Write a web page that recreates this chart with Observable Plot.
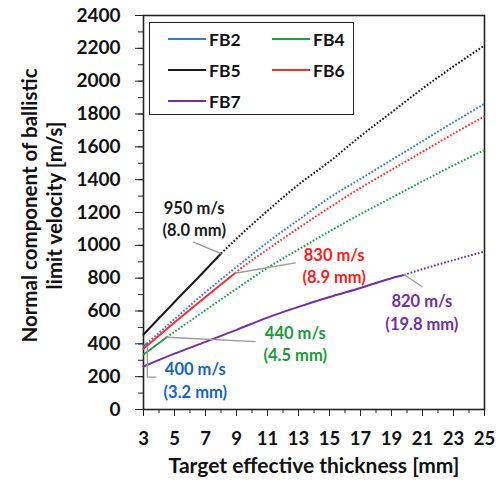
<!DOCTYPE html>
<html>
<head>
<meta charset="utf-8">
<script src="https://cdn.jsdelivr.net/npm/d3@7"></script>
<script src="https://cdn.jsdelivr.net/npm/@observablehq/plot@0.6"></script>
<style>
  html, body { margin: 0; padding: 0; background: #fff; }
  #wrap { position: relative; width: 501px; height: 486px; font-family: Lato, "Open Sans", sans-serif; }
  #legend { position: absolute; left: 149px; top: 22px; width: 203px; height: 91px; border: 1.6px solid #222; background: #fff; }
  .item { position: absolute; display: flex; align-items: center; font-weight: bold; font-size: 17.5px; color: #111; }
  .item svg { margin-right: 3px; }
</style>
</head>
<body>
<div id="wrap"><div id="legend"></div></div>
<script>
// ---- data ----
const series = ["FB2", "FB4", "FB5", "FB6", "FB7"];
const colors = ["#3878D0", "#1BA04A", "#1a1a1a", "#FF2A2A", "#7030A0"];
const labelColors = ["#1565C0", "#1A9A3A", "#1a1a1a", "#FF1A1A", "#7030A0"];
const thickness = [3, 5, 7, 9, 11, 13, 15, 17, 19, 21, 23, 25];
const fb2 = [388, 550, 715, 868, 1018, 1155, 1290, 1405, 1520, 1635, 1750, 1862];
const fb4 = [335, 473, 605, 735, 863, 975, 1085, 1190, 1290, 1390, 1487, 1581];
const fb5 = [457, 655, 850, 1040, 1210, 1370, 1510, 1665, 1810, 1955, 2090, 2217];
const fb6 = [370, 530, 685, 838, 975, 1105, 1230, 1350, 1460, 1570, 1680, 1786];
const fb7 = [262, 340, 412, 485, 560, 625, 685, 740, 800, 855, 910, 962];
const values = [fb2, fb4, fb5, fb6, fb7];
// limit points (solid -> dotted)
const critThickness = [3.2, 4.5, 8.0, 8.9, 19.8];
const critVelocity = [400, 440, 950, 830, 820];
// annotation label anchors (data units)
const labelT = [6.34, 12.79, 6.27, 15.3, 20.96];
const labelV = [183, 405, 1169, 880, 597];
// leader line paths (data units)
const leaders = [
  [[3.25, 385], [3.25, 197], [3.8, 197]],
  [[4.5, 440], [10.2, 414]],
  [[8.0, 950], [6.23, 1019]],
  [[8.9, 830], [12.79, 893]],
  [[19.8, 822], [20.96, 749]]
];
const xTicks = [3, 5, 7, 9, 11, 13, 15, 17, 19, 21, 23, 25];
const yTicks = [0, 200, 400, 600, 800, 1000, 1200, 1400, 1600, 1800, 2000, 2200, 2400];
const xTitle = "Target effective thickness [mm]";
const yTitle = "Normal component of ballistic\nlimit velocity [m/s]";

// ---- build rows ----
const solid = [], dotted = [];
series.forEach((s, i) => {
  const pts = thickness.map((t, j) => ({series: s, t, v: values[i][j]}));
  const c = {series: s, t: critThickness[i], v: critVelocity[i]};
  solid.push(...pts.filter(p => p.t < c.t), c);
  dotted.push(c, ...pts.filter(p => p.t > c.t));
});
const leaderRows = leaders.flatMap((pts, i) => pts.map(([t, v]) => ({k: i, t, v})));
const labels = series.map((s, i) => ({
  series: s, t: labelT[i], v: labelV[i],
  text: `${critVelocity[i]} m/s\n(${critThickness[i].toFixed(1)} mm)`
}));

const font = "Lato, 'Open Sans', sans-serif";
const fmt = d3.format("d");
const chart = Plot.plot({
  width: 501, height: 486,
  marginLeft: 143, marginRight: 17, marginTop: 15, marginBottom: 77,
  style: {fontFamily: font, background: "transparent", color: "#111"},
  x: {domain: [3, 25]},
  y: {domain: [0, 2400]},
  color: {domain: series, range: colors},
  marks: [
    Plot.axisX(d3.range(3, 26, 1), {tickSize: 4, tickFormat: () => "", label: null, stroke: "#222"}),
    Plot.axisX(xTicks, {tickSize: 7, tickPadding: 15, tickFormat: fmt, label: null, fontSize: 18.5, fontWeight: "bold", stroke: "#222", fill: "#111"}),
    Plot.axisY(d3.range(0, 2401, 100), {tickSize: 5, tickFormat: () => "", label: null, stroke: "#222"}),
    Plot.axisY(yTicks, {tickSize: 8, tickPadding: 15, tickFormat: fmt, label: null, fontSize: 19, fontWeight: "bold", stroke: "#222", fill: "#111"}),
    Plot.frame({stroke: "#222", strokeWidth: 1.6}),
    Plot.line(dotted, {x: "t", y: "v", z: "series", stroke: "series", strokeWidth: 2, strokeDasharray: "1.7,1.8", strokeLinecap: "butt", curve: "monotone-x"}),
    Plot.line(solid, {x: "t", y: "v", z: "series", stroke: "series", strokeWidth: 2, curve: "monotone-x"}),
    Plot.line(leaderRows, {x: "t", y: "v", z: "k", stroke: "#999", strokeWidth: 1.3}),
    Plot.text(labels, {x: "t", y: "v", text: "text", fill: (d) => labelColors[series.indexOf(d.series)], fontSize: 16.5, fontWeight: "bold", lineHeight: 1.35, lineAnchor: "middle", textAnchor: "middle"}),
    Plot.text([xTitle], {text: d => d, frameAnchor: "bottom", dy: 57, lineAnchor: "middle", fontSize: 21, fontWeight: "bold", fill: "#111"}),
    Plot.text([yTitle], {text: d => d, frameAnchor: "left", dx: -102, dy: -7, rotate: -90, lineAnchor: "middle", textAnchor: "middle", lineHeight: 1.2, fontSize: 20.5, fontWeight: "bold", fill: "#111"})
  ]
});
chart.style.position = "absolute";
chart.style.left = "0";
chart.style.top = "0";
const wrap = document.getElementById("wrap");
wrap.insertBefore(chart, wrap.firstChild);

// legend
const legend = document.getElementById("legend");
const pos = [[18, 16], [122, 16], [18, 47], [122, 47], [18, 78]];
const order = ["FB2", "FB4", "FB5", "FB6", "FB7"];
order.forEach((s, k) => {
  const i = series.indexOf(s);
  const el = document.createElement("div");
  el.className = "item";
  el.style.left = pos[k][0] + "px";
  el.style.top = (pos[k][1] - 11) + "px";
  el.style.height = "22px";
  el.innerHTML = `<svg width="38" height="4"><line x1="0" x2="38" y1="2" y2="2" stroke="${colors[i]}" stroke-width="1.8"/></svg>${s}`;
  legend.appendChild(el);
});
</script>
</body>
</html>
